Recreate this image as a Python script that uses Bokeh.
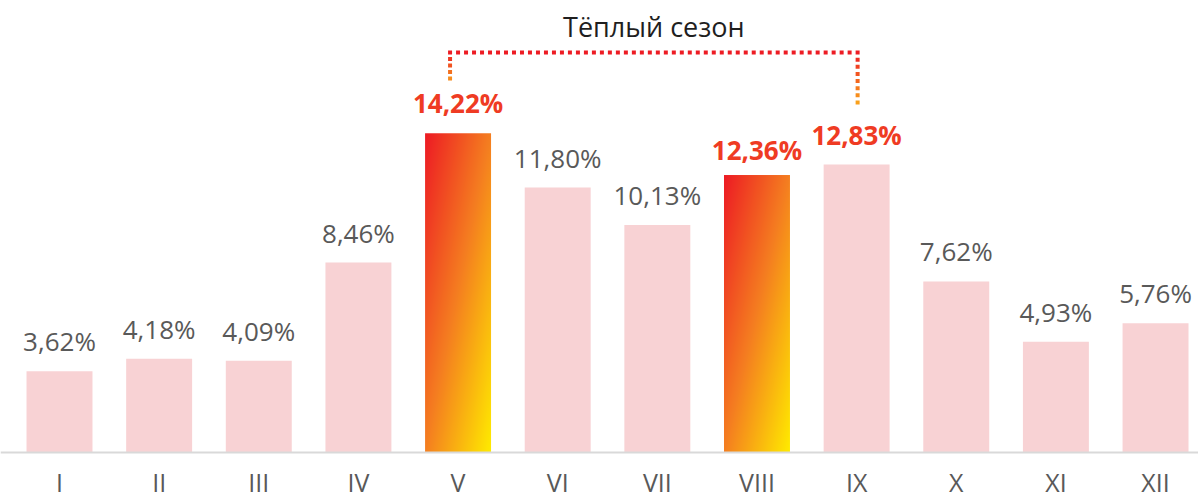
import numpy as np
from bokeh.plotting import figure
from bokeh.models import Range1d, Span, ColumnDataSource
from bokeh.core.properties import value
from bokeh.embed import file_html
from bokeh.resources import INLINE

# ---------------- data ----------------
months = ["I", "II", "III", "IV", "V", "VI", "VII", "VIII", "IX", "X", "XI", "XII"]
shares = [3.62, 4.18, 4.09, 8.46, 14.22, 11.80, 10.13, 12.36, 12.83, 7.62, 4.93, 5.76]
share_labels = ["3,62%", "4,18%", "4,09%", "8,46%", "14,22%", "11,80%",
                "10,13%", "12,36%", "12,83%", "7,62%", "4,93%", "5,76%"]
gradient_months = ["V", "VIII"]
bold_label_months = ["V", "VIII", "IX"]
season_title = "Тёплый сезон"
season_start = "V"
season_end = "IX"

# ---------------- geometry / style ----------------
W, H = 1198, 494
PX_X = 99.64          # px per category
PX_Y = 22.45          # px per percent
BASE_PX = 452         # baseline position from top of canvas
x0 = -59 / PX_X
x1 = x0 + W / PX_X
y1 = BASE_PX / PX_Y
y0 = -(H - BASE_PX) / PX_Y
BAR_W = 0.662
TXT_SHIFT = 0.46      # glyph bottom sits this many em below the anchor

PINK = "#F8D2D4"
GRAY = "#595959"
RED = "#ED1C24"

p = figure(width=W, height=H, x_range=Range1d(x0, x1), y_range=Range1d(y0, y1),
           x_axis_type=None, y_axis_type=None, output_backend="svg",
           toolbar_location=None, min_border=0, outline_line_color=None,
           background_fill_color="white", border_fill_color="white")

idx = list(range(len(months)))

# plain bars
plain = [i for i in idx if months[i] not in gradient_months]
p.vbar(x=plain, top=[shares[i] for i in plain], width=BAR_W,
       bottom=0, fill_color=PINK, line_color=None)

# gradient bars (red -> orange -> yellow, diagonal)
stops_t = [0.0, 0.5, 1.0]
stops_c = np.array([[237, 28, 36], [245, 128, 32], [255, 237, 0]], dtype=float)


def grad_image(w_px, h_px):
    u = np.linspace(0, 1, w_px)[None, :]
    v_top = np.linspace(1, 0, h_px)[:, None]   # row 0 = bottom of bar
    t = (u + v_top) / 2.0
    img = np.zeros((h_px, w_px, 4), dtype=np.uint8)
    for ch in range(3):
        img[:, :, ch] = np.interp(t, stops_t, stops_c[:, ch]).astype(np.uint8)
    img[:, :, 3] = 255
    return img.view(dtype=np.uint32).reshape((h_px, w_px))


for m in gradient_months:
    i = months.index(m)
    h_px = int(round(shares[i] * PX_Y))
    w_px = int(round(BAR_W * PX_X))
    p.image_rgba(image=[grad_image(w_px, h_px)], x=i - BAR_W / 2, y=0,
                 dw=BAR_W, dh=shares[i])

# baseline
p.add_layout(Span(location=0, dimension="width", line_color="#D9D9D9", line_width=2))

# value labels
VAL_SIZE = 26
BOLD_SIZE = 26
gap_px = {"VIII": 13}


def label_y(i, size):
    g = gap_px.get(months[i], 18)
    return shares[i] + (g + TXT_SHIFT * size) / PX_Y


reg = [i for i in idx if months[i] not in bold_label_months]
src_reg = ColumnDataSource(dict(x=reg, y=[label_y(i, VAL_SIZE) for i in reg],
                                t=[share_labels[i] for i in reg]))
p.text(x="x", y="y", text="t", source=src_reg, text_align="center",
       text_baseline="alphabetic", text_font=value("Open Sans"),
       text_font_size=f"{VAL_SIZE}px", text_color=GRAY)

bold = [months.index(m) for m in bold_label_months]
src_bold = ColumnDataSource(dict(x=bold, y=[label_y(i, BOLD_SIZE) for i in bold],
                                 t=[share_labels[i] for i in bold]))
p.text(x="x", y="y", text="t", source=src_bold, text_align="center",
       text_baseline="alphabetic", text_font=value("Open Sans"),
       text_font_style="bold", text_font_size=f"{BOLD_SIZE}px", text_color="#EF3B23")

# month labels (bottom edge of the picture trims them, as in the original)
M_SIZE = 25
m_y = -(493 - BASE_PX - TXT_SHIFT * M_SIZE) / PX_Y
src_m = ColumnDataSource(dict(x=idx, y=[m_y] * len(idx), t=months))
p.text(x="x", y="y", text="t", source=src_m, text_align="center",
       text_baseline="alphabetic", text_font=value("Open Sans"),
       text_font_size=f"{M_SIZE}px", text_color=GRAY)

# season bracket (dotted)
xl = months.index(season_start) - 8 / PX_X
xr = months.index(season_end) + 1 / PX_X
y_top = y1 - 52 / PX_Y
y_left_bot = y1 - 78 / PX_Y
y_right_bot = y1 - 102 / PX_Y

n_h = int(round((xr - xl) * PX_X / 8))
hx = list(np.linspace(xl, xr, n_h + 1))
hy = [y_top] * len(hx)
hc = [RED] * len(hx)


def vertical(x, yb, end_rgb):
    n = int(round((y_top - yb) * PX_Y / 7.3))
    ys = np.linspace(y_top, yb, n + 1)[1:]
    cols = []
    for k in range(len(ys)):
        f = (k + 1) / len(ys)
        c = (1 - f) * np.array([237, 28, 36]) + f * np.array(end_rgb)
        cols.append("#%02x%02x%02x" % tuple(int(v) for v in c))
    return [x] * len(ys), list(ys), cols


lx, ly, lc = vertical(xl, y_left_bot, [246, 140, 30])
rx, ry, rc = vertical(xr, y_right_bot, [249, 160, 27])
p.scatter(x=hx + lx + rx, y=hy + ly + ry, color=hc + lc + rc, marker="square",
          size=4, line_color=None)

# season title
T_SIZE = 27
src_t = ColumnDataSource(dict(x=[(xl + xr) / 2], y=[y1 - (38 - TXT_SHIFT * T_SIZE) / PX_Y],
                              t=[season_title]))
p.text(x="x", y="y", text="t", source=src_t, text_align="center",
       text_baseline="alphabetic", text_font=value("Open Sans"),
       text_font_size=f"{T_SIZE}px", text_color="#1F1F1F")

open("out.html", "w").write(file_html(p, INLINE))
